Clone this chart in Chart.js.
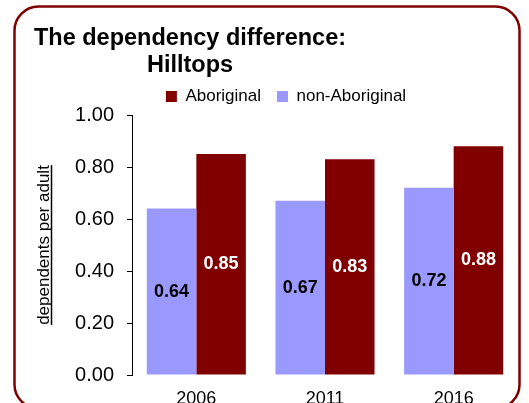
<!DOCTYPE html>
<html>
<head>
<meta charset="utf-8">
<script src="https://cdn.jsdelivr.net/npm/chart.js@4"></script>
<style>
  html, body { margin: 0; padding: 0; background: #fff; }
  #wrap { width: 529px; height: 403px; }
</style>
</head>
<body>
<div id="wrap"><canvas id="chart" width="529" height="403"></canvas></div>
<script>
const years = ['2006', '2011', '2016'];
const nonAboriginal = [0.64, 0.67, 0.72];
const aboriginal = [0.85, 0.83, 0.88];
const yTicks = [0, 0.2, 0.4, 0.6, 0.8, 1.0];

const FONT = '"Liberation Sans", Arial, sans-serif';

// border, titles and y-axis label
const framePlugin = {
    id: 'frame',
    beforeDraw: function (chart) {
        const ctx = chart.ctx;
        ctx.save();
        ctx.fillStyle = '#fff';
        ctx.fillRect(0, 0, chart.width, chart.height);

        ctx.strokeStyle = '#800000';
        ctx.lineWidth = 2.5;
        ctx.beginPath();
        ctx.roundRect(14.5, 6.5, 505, 402, 24);
        ctx.stroke();

        ctx.fillStyle = '#000';
        ctx.textAlign = 'center';
        ctx.textBaseline = 'alphabetic';
        ctx.font = 'bold 23.5px ' + FONT;
        ctx.fillText('The dependency difference:', 190, 45);
        ctx.fillText('Hilltops', 190, 72);

        // rotated, underlined axis title
        ctx.translate(49, 245);
        ctx.rotate(-Math.PI / 2);
        ctx.font = '17px ' + FONT;
        const label = 'dependents per adult';
        ctx.fillText(label, 0, 0);
        const w = ctx.measureText(label).width;
        ctx.lineWidth = 1.5;
        ctx.strokeStyle = '#000';
        ctx.beginPath();
        ctx.moveTo(-w / 2, 2.5);
        ctx.lineTo(w / 2, 2.5);
        ctx.stroke();
        ctx.restore();
    }
};

// value labels in the middle of each bar
const valuePlugin = {
    id: 'values',
    afterDatasetsDraw: function (chart) {
        const ctx = chart.ctx;
        ctx.save();
        ctx.font = 'bold 18px ' + FONT;
        ctx.textAlign = 'center';
        ctx.textBaseline = 'middle';
        chart.data.datasets.forEach(function (ds, i) {
            const meta = chart.getDatasetMeta(i);
            ctx.fillStyle = ds.labelColor;
            meta.data.forEach(function (bar, j) {
                ctx.fillText(ds.data[j].toFixed(2), bar.x, (bar.y + bar.base) / 2);
            });
        });
        ctx.restore();
    }
};

new Chart(document.getElementById('chart').getContext('2d'), {
    type: 'bar',
    data: {
        labels: years,
        datasets: [{
            label: 'non-Aboriginal',
            data: nonAboriginal,
            backgroundColor: '#9999ff',
            labelColor: '#000',
            categoryPercentage: 0.77,
            barPercentage: 1.0
        }, {
            label: 'Aboriginal',
            data: aboriginal,
            backgroundColor: '#800000',
            labelColor: '#fff',
            categoryPercentage: 0.77,
            barPercentage: 1.0
        }]
    },
    options: {
        responsive: false,
        animation: false,
        layout: { padding: { top: 72, left: 54, right: 11, bottom: 0 } },
        plugins: {
            legend: {
                reverse: true,
                labels: {
                    boxWidth: 11,
                    boxHeight: 11,
                    padding: 16,
                    color: '#000',
                    font: { family: FONT, size: 17 }
                }
            },
            tooltip: { enabled: false }
        },
        scales: {
            x: {
                grid: { display: false },
                border: { display: false },
                ticks: { color: '#000', padding: 5, font: { family: FONT, size: 18 } },
                afterFit: function (scale) { scale.height = 28; }
            },
            y: {
                min: 0,
                max: 1,
                grid: { drawOnChartArea: false, color: '#000', tickLength: 5 },
                border: { color: '#000', width: 1 },
                ticks: {
                    stepSize: 0.1,
                    color: '#000',
                    padding: 13,
                    font: { family: FONT, size: 20 },
                    callback: function (v) {
                        const r = Math.round(v * 10) / 10;
                        return yTicks.some(t => Math.abs(t - r) < 1e-9) ? r.toFixed(2) : '';
                    }
                },
                afterFit: function (scale) { scale.width = 78; }
            }
        }
    },
    plugins: [framePlugin, valuePlugin]
});
</script>
</body>
</html>
